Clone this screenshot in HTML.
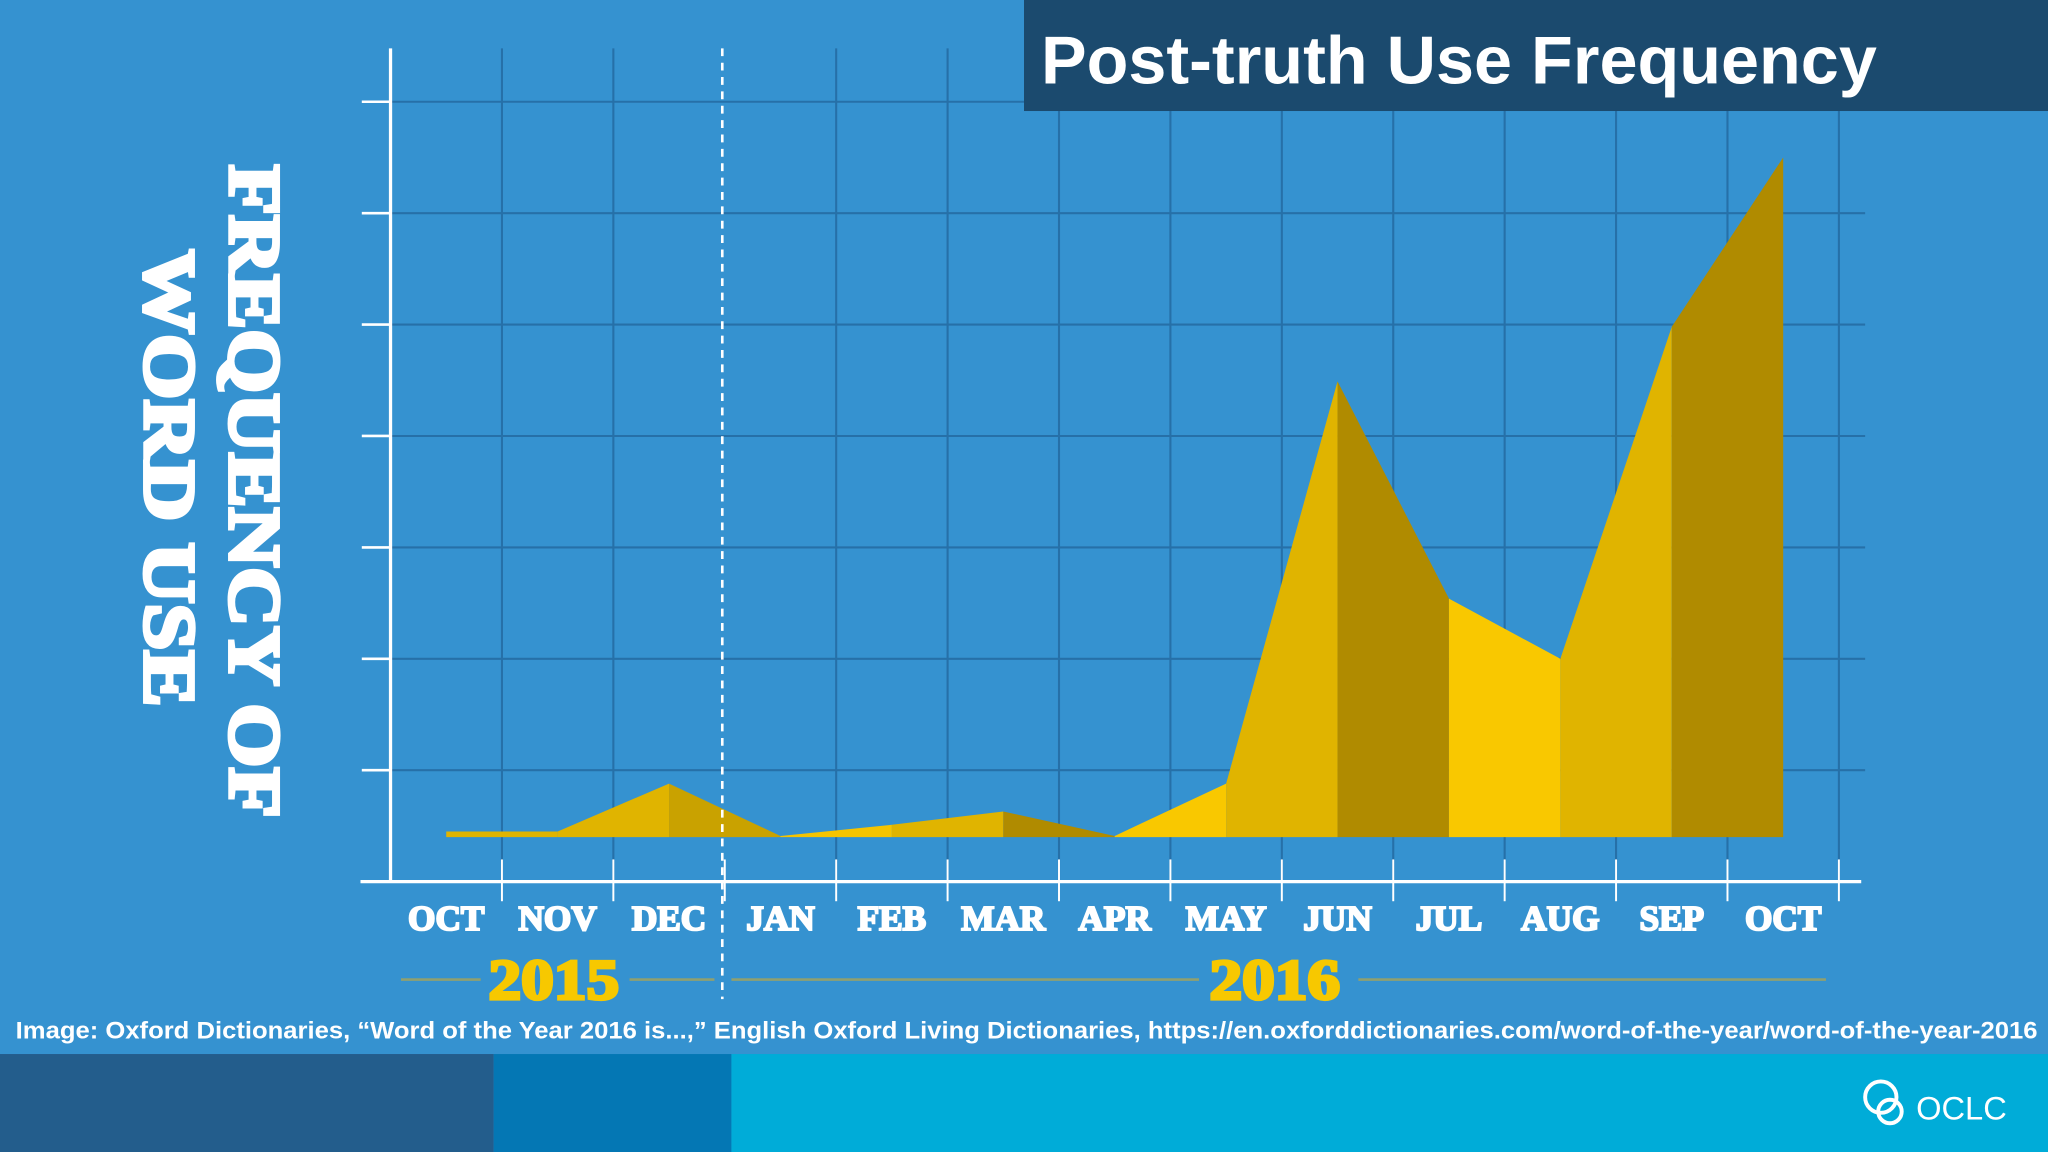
<!DOCTYPE html>
<html><head><meta charset="utf-8"><style>
html,body{margin:0;padding:0;background:#3592d0;}
svg{display:block;}
.mon{font-family:"Liberation Serif",serif;font-weight:bold;font-size:27px;fill:#fff;stroke:#fff;stroke-width:1.6;text-anchor:middle;}
.yr{font-family:"Liberation Serif",serif;font-weight:bold;font-size:44px;fill:#f7c800;stroke:#f7c800;stroke-width:2.5;text-anchor:middle;}
.yt{font-family:"Liberation Serif",serif;font-weight:bold;font-size:56px;fill:#fff;stroke:#fff;stroke-width:3;text-anchor:middle;}
</style></head><body>
<svg id="chart" width="2048" height="1152" viewBox="0 0 1568 882" xmlns="http://www.w3.org/2000/svg">
<rect x="0" y="0" width="1568" height="882" fill="#3592d0"/>
<g id="grid"></g>
<g id="area"></g>
<g id="axes"></g>
<g id="labels"></g>
<rect x="784" y="0" width="784" height="85" fill="#1b4a6e"/>
<text x="797" y="64" textLength="640" lengthAdjust="spacingAndGlyphs" font-family="Liberation Sans, sans-serif" font-weight="bold" font-size="52" fill="#fff">Post-truth Use Frequency</text>
<g transform="translate(176,376) rotate(90)">
<text class="yt" x="0" y="0" textLength="500" lengthAdjust="spacingAndGlyphs">FREQUENCY OF</text>
<text class="yt" x="-10" y="65" textLength="350" lengthAdjust="spacingAndGlyphs">WORD USE</text>
</g>
<line x1="553" y1="37" x2="553" y2="765" stroke="#fff" stroke-width="2" stroke-dasharray="6,5"/>
<g>
<line x1="307" y1="750" x2="368" y2="750" stroke="#8fa070" stroke-width="2"/>
<line x1="482" y1="750" x2="547" y2="750" stroke="#8fa070" stroke-width="2"/>
<text class="yr" x="424" y="765" textLength="100" lengthAdjust="spacingAndGlyphs">2015</text>
</g>
<g>
<line x1="560" y1="750" x2="918" y2="750" stroke="#8fa070" stroke-width="2"/>
<line x1="1040" y1="750" x2="1398" y2="750" stroke="#8fa070" stroke-width="2"/>
<text class="yr" x="976" y="765" textLength="100" lengthAdjust="spacingAndGlyphs">2016</text>
</g>
<text x="12" y="795" textLength="1548" lengthAdjust="spacingAndGlyphs" font-family="Liberation Sans, sans-serif" font-weight="bold" font-size="18.5" fill="#fff">Image: Oxford Dictionaries, “Word of the Year 2016 is...,” English Oxford Living Dictionaries, https://en.oxforddictionaries.com/word-of-the-year/word-of-the-year-2016</text>
<rect x="0" y="807" width="378" height="75" fill="#235d8c"/>
<rect x="378" y="807" width="182" height="75" fill="#0477b4"/>
<rect x="560" y="807" width="1008" height="75" fill="#00acd8"/>
<g>
<circle cx="1440" cy="840" r="12" fill="none" stroke="#fff" stroke-width="3"/>
<circle cx="1447" cy="851" r="9" fill="none" stroke="#fff" stroke-width="3"/>
<text x="1467" y="857" font-family="Liberation Sans, sans-serif" font-size="25" fill="#fff">OCLC</text>
</g>
</svg>
<script>
const months = ["OCT","NOV","DEC","JAN","FEB","MAR","APR","MAY","JUN","JUL","AUG","SEP","OCT"];
const values = [0.45,0.45,0.88,0.41,0.51,0.63,0.41,0.88,4.49,2.54,2.0,4.98,6.5];
const areaBase = 0.4;
const yTicks = [1,2,3,4,5,6,7];
const segColors = ["#e0b400","#e0b400","#c9a200","#f5c400","#e0b400","#b08b00","#f9c800","#e0b400","#b08b00","#f9c800","#e0b400","#b08b00"];
const NS = "http://www.w3.org/2000/svg";
const X0 = 299, STEP = 85.3, Y0 = 675, UNIT = 85.3;
const xc = i => X0 + STEP/2 + STEP*i;
const xg = i => X0 + STEP*i;
const y = v => Y0 - v*UNIT;
function mk(tag, attrs, parent){const e=document.createElementNS(NS,tag);for(const k in attrs)e.setAttribute(k,attrs[k]);document.getElementById(parent).appendChild(e);return e;}
yTicks.forEach(t=>{
  const gl = mk("line",{x1:X0,y1:y(t),x2:1428,y2:y(t),stroke:"#2670a8","stroke-width":1.6},"grid");
  
  
  const tk = mk("line",{x1:277,y1:y(t),x2:X0,y2:y(t),stroke:"#fff","stroke-width":2},"axes");
  
  
});
for(let i=1;i<=months.length;i++){
  if(i===3) continue;
  const gl = mk("line",{x1:xg(i),y1:37,x2:xg(i),y2:675,stroke:"#2670a8","stroke-width":1.6},"grid");
  
  
}
for(let i=1;i<=months.length;i++){
  const tk = mk("line",{x1:xg(i),y1:658,x2:xg(i),y2:690,stroke:"#fff","stroke-width":1.5},"axes");
  
  
}
const ya = mk("line",{x1:X0,y1:37,x2:X0,y2:676,stroke:"#fff","stroke-width":2.5},"axes");


const xa = mk("line",{x1:276,y1:675,x2:1425,y2:675,stroke:"#fff","stroke-width":2.5},"axes");


for(let i=0;i<values.length-1;i++){
  const pts = `${xc(i)},${y(areaBase)} ${xc(i)},${y(values[i])} ${xc(i+1)},${y(values[i+1])} ${xc(i+1)},${y(areaBase)}`;
  const p = mk("polygon",{points:pts,fill:segColors[i]},"area");
  
  
}
months.forEach((m,i)=>{
  const t = mk("text",{x:xc(i),y:712,class:"mon"},"labels");
  t.textContent = m;
  
  
});
</script>
</body></html>
